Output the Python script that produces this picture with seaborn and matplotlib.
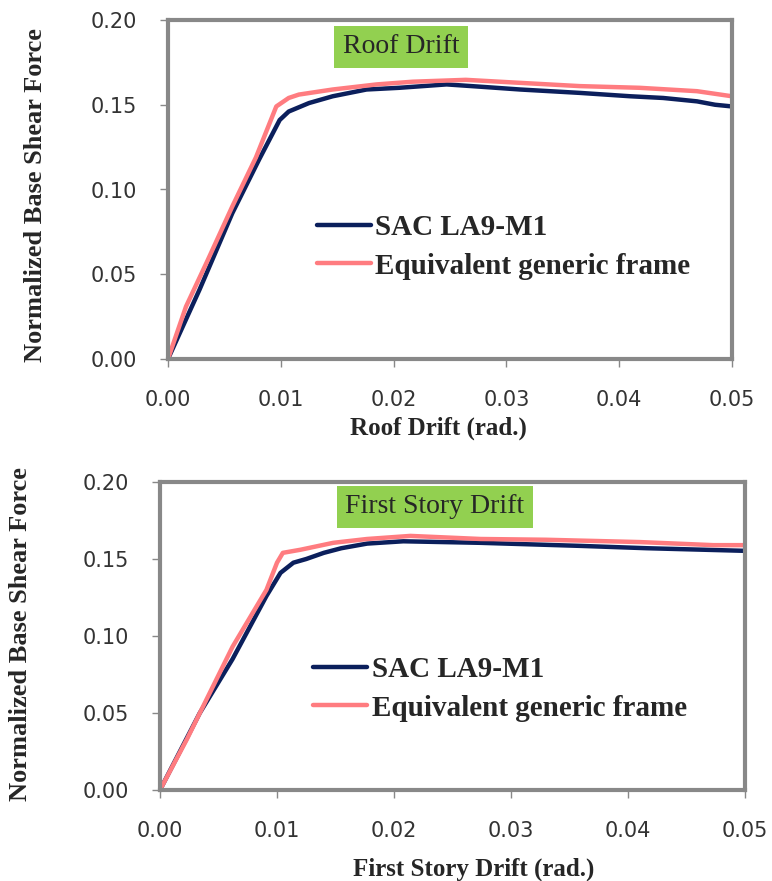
import pandas as pd
import seaborn as sns
import matplotlib.pyplot as plt

# roof drift panel
roof_x_sac = [0, 0.0028, 0.0057, 0.0081, 0.0099, 0.0107, 0.0125, 0.0146, 0.0176, 0.0205,
              0.0247, 0.028, 0.0312, 0.0365, 0.041, 0.0439, 0.0469, 0.0485, 0.05]
roof_y_sac = [0, 0.041, 0.086, 0.118, 0.141, 0.146, 0.151, 0.155, 0.159, 0.160,
              0.162, 0.1605, 0.159, 0.157, 0.155, 0.154, 0.152, 0.150, 0.149]
roof_x_gen = [0, 0.0016, 0.0035, 0.0057, 0.0078, 0.0096, 0.0107, 0.0116, 0.0146, 0.0185,
              0.0217, 0.0264, 0.031, 0.0365, 0.0418, 0.0469, 0.05]
roof_y_gen = [0, 0.031, 0.058, 0.090, 0.119, 0.149, 0.154, 0.156, 0.159, 0.162,
              0.1636, 0.1647, 0.163, 0.161, 0.160, 0.158, 0.155]

# first story drift panel
story_x_sac = [0, 0.0034, 0.0062, 0.0091, 0.0103, 0.0114, 0.0125, 0.014, 0.0155, 0.0177,
               0.0208, 0.0274, 0.036, 0.0416, 0.05]
story_y_sac = [0, 0.050, 0.085, 0.126, 0.141, 0.1476, 0.150, 0.154, 0.157, 0.160,
               0.1615, 0.1605, 0.1585, 0.157, 0.1553]
story_x_gen = [0, 0.0023, 0.0062, 0.0091, 0.0100, 0.0105, 0.012, 0.0148, 0.0177, 0.0214,
               0.0274, 0.033, 0.041, 0.0473, 0.05]
story_y_gen = [0, 0.033, 0.093, 0.130, 0.1476, 0.154, 0.156, 0.1605, 0.163, 0.165,
               0.163, 0.1625, 0.161, 0.159, 0.159]

x_ticks = [0.00, 0.01, 0.02, 0.03, 0.04, 0.05]
y_ticks = [0.00, 0.05, 0.10, 0.15, 0.20]
series_names = ["SAC LA9-M1", "Equivalent generic frame"]

NAVY = "#0B1F5C"
PINK = "#FF7C80"
GRAY = "#888888"
GREEN = "#92D050"
SERIF = "Liberation Serif"

sns.set_style("white")
plt.rcParams['font.family'] = ['DejaVu Sans']

fig = plt.figure(figsize=(7.72, 8.81), dpi=100)
W, H = 772, 881


def panel(rect_px, xs, ys, tag, xlabel, tag_pos, leg_pos, xlab_pos, ylab_pos):
    l, t, r, b = rect_px
    ax = fig.add_axes([l / W, 1 - b / H, (r - l) / W, (b - t) / H])
    df = pd.concat([
        pd.DataFrame({"x": xs[0], "y": ys[0], "s": series_names[0]}),
        pd.DataFrame({"x": xs[1], "y": ys[1], "s": series_names[1]}),
    ])
    sns.lineplot(data=df, x="x", y="y", hue="s", sort=False,
                 palette=[NAVY, PINK], linewidth=3.2, ax=ax)
    ax.set_xlim(0, 0.05)
    ax.set_ylim(0, 0.20)
    ax.set_xticks(x_ticks)
    ax.set_yticks(y_ticks)
    ax.set_xticklabels([f"{v:.2f}" for v in x_ticks])
    ax.set_yticklabels([f"{v:.2f}" for v in y_ticks])
    ax.tick_params(axis="both", direction="out", length=6, width=1, color=GRAY,
                   labelsize=15, labelcolor="#333333", pad=16,
                   bottom=True, left=True)
    for sp in ax.spines.values():
        sp.set_color(GRAY)
        sp.set_linewidth(3)
    ax.set_xlabel(xlabel, fontsize=18, fontweight="bold", family=SERIF)
    ax.set_ylabel("Normalized Base Shear Force", fontsize=19, fontweight="bold", family=SERIF)
    ax.xaxis.set_label_coords(*xlab_pos)
    ax.yaxis.set_label_coords(*ylab_pos)
    ax.text(tag_pos[0], tag_pos[1], tag, transform=ax.transAxes, ha="center", va="center",
            fontsize=20, family=SERIF,
            bbox=dict(boxstyle="square,pad=0.3", facecolor=GREEN, edgecolor="none"))
    leg = ax.legend(loc="center left", bbox_to_anchor=leg_pos, frameon=False,
                    prop={"family": SERIF, "weight": "bold", "size": 21},
                    handlelength=1.85, handletextpad=0.15, labelspacing=0.4,
                    borderpad=0, borderaxespad=0)
    for line in leg.get_lines():
        line.set_linewidth(3.2)
    return ax


panel((168, 20, 732, 359), (roof_x_sac, roof_x_gen), (roof_y_sac, roof_y_gen),
      "Roof Drift", "Roof Drift (rad.)",
      tag_pos=(0.413, 0.921), leg_pos=(0.264, 0.331),
      xlab_pos=(0.48, -0.171), ylab_pos=(-0.215, 0.485))

panel((160, 482, 745, 790), (story_x_sac, story_x_gen), (story_y_sac, story_y_gen),
      "First Story Drift", "First Story Drift (rad.)",
      tag_pos=(0.470, 0.919), leg_pos=(0.262, 0.329),
      xlab_pos=(0.536, -0.218), ylab_pos=(-0.219, 0.505))

fig.savefig("out.png", dpi=100, facecolor="white")
